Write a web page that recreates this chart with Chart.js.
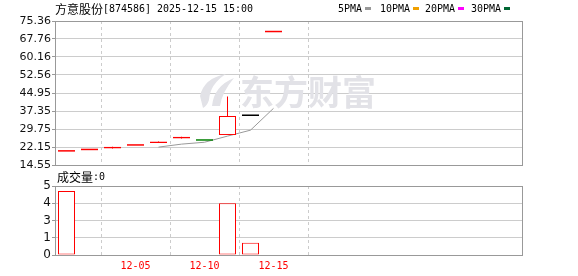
<!DOCTYPE html>
<html><head><meta charset="utf-8">
<script src="https://cdn.jsdelivr.net/npm/chart.js@4.4.0/dist/chart.umd.min.js"></script>
<style>
html,body{margin:0;padding:0;background:#fff;}
#wrap{position:relative;width:578px;height:276px;overflow:hidden;}
canvas{position:absolute;left:0;top:0;}
</style></head><body>
<div id="wrap"><canvas id="k" width="578" height="276"></canvas><canvas id="v" width="578" height="276"></canvas></div>
<script>
// ---- data ----
const dates = ["12-02","12-03","12-04","12-05","12-08","12-09","12-10","12-11","12-12","12-15"];
const openP  = [20.2, 20.8, 21.5, 22.7, 23.8, 25.7, 24.8, 27.2, 35.25, 70.6];
const closeP = [20.2, 20.8, 22.3, 22.7, 24.5, 26.5, 24.8, 35.25, 35.25, 70.6];
const highP  = [20.2, 20.8, 22.3, 22.7, 24.5, 26.5, 24.8, 43.5, 35.25, 70.6];
const lowP   = [20.2, 20.8, 21.5, 22.7, 23.8, 25.7, 24.8, 27.2, 35.25, 70.6];
const ma5    = [null, null, null, null, 22.1, 23.36, 24.16, 26.75, 29.26, 38.48];
const volume = [4.95, null, null, null, null, null, null, 4.0, 0.95, null];
const priceTicks = [14.55, 22.15, 29.75, 37.35, 44.95, 52.56, 60.16, 67.76, 75.36];
const volMax = 5.33;
const volTicks = [0, 1.3325, 2.665, 3.9975, 5.33];
const volTickLabels = ["0", "1", "3", "4", "5"];
const dateTicks = ["12-05", "12-10", "12-15"];
const stockName = "方意股份";
const stockInfo = "[874586] 2025-12-15 15:00";
const legendNames = ["5PMA", "10PMA", "20PMA", "30PMA"];
const volLabelCJK = "成交量";
const volLabelVal = ":0";
const watermark = "东方财富";

// ---- styles ----
const UP = '#ff0000', DOWN = '#008000', FLAT = '#000000';
const legendColors = ['#999999', '#f0a000', '#ff00ff', '#006633'];
const PLOT_W = 467, SLOT = 23;
const X_MIN = -0.5, X_MAX = -0.5 + PLOT_W / SLOT;
const dateTickIdx = dateTicks.map(d => dates.indexOf(d));

const candleColors = closeP.map((c, i) => {
  const o = openP[i];
  if (c > o) return UP;
  if (c < o) return DOWN;
  if (i === 0) return UP;
  const p = closeP[i - 1];
  return c > p ? UP : (c < p ? DOWN : FLAT);
});
const isDoji = closeP.map((c, i) => c === openP[i]);
const bodyFill = closeP.map((c, i) => isDoji[i] ? candleColors[i] : '#ffffff');
const bodyBorderW = isDoji.map(d => d ? 0 : 1);

function drawFixed(ctx, text, x, y, font, adv) {
  ctx.save();
  ctx.font = font;
  const w = ctx.measureText(text).width;
  ctx.translate(x, y);
  ctx.scale((adv * text.length) / w, 1);
  ctx.fillText(text, 0, 0);
  ctx.restore();
}

const framePlugin = {
  id: 'frame',
  afterDraw(chart) {
    const { ctx, chartArea: a } = chart;
    ctx.save();
    ctx.strokeStyle = '#999999';
    ctx.lineWidth = 1;
    ctx.strokeRect(Math.round(a.left) + 0.5, Math.round(a.top) + 0.5,
      Math.round(a.right - a.left), Math.round(a.bottom - a.top));
    ctx.restore();
  }
};

const watermarkPlugin = {
  id: 'wm',
  beforeDatasetsDraw(chart) {
    const ctx = chart.ctx;
    ctx.save();
    ctx.fillStyle = '#e2e2e7';
    ctx.font = 'bold 34px "Noto Sans CJK SC"';
    ctx.textBaseline = 'middle';
    ctx.fillText(watermark, 240, 92);
    ctx.beginPath();
    ctx.moveTo(200, 96);
    ctx.quadraticCurveTo(204, 78, 226, 74);
    ctx.quadraticCurveTo(210, 84, 209, 100);
    ctx.quadraticCurveTo(207, 106, 203, 108);
    ctx.closePath();
    ctx.fill();
    ctx.beginPath();
    ctx.moveTo(212, 106);
    ctx.quadraticCurveTo(214, 86, 234, 78);
    ctx.quadraticCurveTo(222, 92, 220, 106);
    ctx.closePath();
    ctx.fill();
    ctx.restore();
  }
};

const headerPlugin = {
  id: 'header',
  afterDraw(chart) {
    const ctx = chart.ctx;
    ctx.save();
    ctx.fillStyle = '#000';
    ctx.textBaseline = 'middle';
    ctx.font = '12px "Noto Sans CJK SC"';
    ctx.fillText(stockName, 55, 9);
    drawFixed(ctx, stockInfo, 103, 9, '11px "DejaVu Sans Mono"', 6);
    const lx = [338, 380, 425, 471];
    legendNames.forEach((n, i) => {
      ctx.fillStyle = '#000';
      drawFixed(ctx, n, lx[i], 9, '11px "DejaVu Sans Mono"', 6);
      ctx.fillStyle = legendColors[i];
      ctx.fillRect(lx[i] + n.length * 6 + 3, 7, 6, 3);
    });
    ctx.restore();
  }
};

const volHeaderPlugin = {
  id: 'volHeader',
  afterDraw(chart) {
    const ctx = chart.ctx;
    ctx.save();
    ctx.fillStyle = '#000';
    ctx.textBaseline = 'middle';
    ctx.font = '12px "Noto Sans CJK SC"';
    ctx.fillText(volLabelCJK, 57, 177);
    drawFixed(ctx, volLabelVal, 93, 177, '11px "DejaVu Sans Mono"', 6);
    ctx.restore();
  }
};

new Chart(document.getElementById('k'), {
  type: 'bar',
  data: {
    datasets: [
      {
        type: 'bar', label: 'body',
        data: dates.map((d, i) => ({ x: i, y: [openP[i], closeP[i]] })),
        backgroundColor: bodyFill, borderColor: candleColors,
        borderWidth: bodyBorderW, borderSkipped: false, barThickness: 17,
        minBarLength: 1.5, inflateAmount: 0, grouped: false, order: 0
      },
      {
        type: 'bar', label: 'wick',
        data: dates.map((d, i) => ({ x: i, y: [lowP[i], highP[i]] })),
        backgroundColor: candleColors, borderWidth: 0, inflateAmount: 0,
        barThickness: 1, grouped: false, order: 1
      },
      {
        type: 'line', label: '5PMA',
        data: ma5.map((v, i) => ({ x: i, y: v })),
        borderColor: '#999999', borderWidth: 1, pointRadius: 0,
        tension: 0, order: 2
      }
    ]
  },
  options: {
    responsive: false, animation: false,
    layout: { padding: { left: 0, right: 56, top: 21, bottom: 111 }, autoPadding: false },
    plugins: { legend: { display: false }, tooltip: { enabled: false } },
    scales: {
      x: {
        type: 'linear', min: X_MIN, max: X_MAX, offset: false,
        afterBuildTicks: a => { a.ticks = dateTickIdx.map(v => ({ value: v })); },
        afterFit: a => { a.height = 0; },
        ticks: { display: false },
        grid: { color: '#cccccc', drawTicks: false },
        border: { display: false, dash: [3, 3] }
      },
      y: {
        type: 'linear', min: priceTicks[0], max: priceTicks[priceTicks.length - 1],
        afterBuildTicks: a => { a.ticks = priceTicks.map(v => ({ value: v })); },
        afterFit: a => { a.width = 55; },
        ticks: {
          autoSkip: false, padding: 1, color: '#111',
          font: { family: 'DejaVu Sans', size: 11 },
          callback: v => Number(v).toFixed(2)
        },
        grid: { color: '#cccccc', tickColor: '#999999', tickLength: 3 },
        border: { display: false }
      }
    }
  },
  plugins: [watermarkPlugin, framePlugin, headerPlugin]
});

new Chart(document.getElementById('v'), {
  type: 'bar',
  data: {
    datasets: [{
      label: 'volume',
      data: volume.map((v, i) => ({ x: i, y: v })),
      backgroundColor: '#ffffff', borderColor: UP, borderWidth: 1,
      borderSkipped: false, barThickness: 17, inflateAmount: 0, grouped: false
    }]
  },
  options: {
    responsive: false, animation: false,
    layout: { padding: { left: 0, right: 56, top: 186, bottom: 0 }, autoPadding: false },
    plugins: { legend: { display: false }, tooltip: { enabled: false } },
    scales: {
      x: {
        type: 'linear', min: X_MIN, max: X_MAX, offset: false,
        afterBuildTicks: a => { a.ticks = dateTickIdx.map(v => ({ value: v })); },
        afterFit: a => { a.height = 21; },
        ticks: {
          autoSkip: false, maxRotation: 0, padding: 5, color: '#ff0000',
          font: { family: 'DejaVu Sans Mono', size: 10 },
          callback: v => dates[v]
        },
        grid: { color: '#cccccc', drawTicks: false },
        border: { display: false, dash: [3, 3] }
      },
      y: {
        type: 'linear', min: 0, max: volMax,
        afterBuildTicks: a => { a.ticks = volTicks.map(v => ({ value: v })); },
        afterFit: a => { a.width = 55; },
        ticks: {
          autoSkip: false, padding: 1, color: '#111',
          font: { family: 'DejaVu Sans', size: 12 },
          callback: (v, i) => volTickLabels[i]
        },
        grid: { color: '#cccccc', tickColor: '#999999', tickLength: 3 },
        border: { display: false }
      }
    }
  },
  plugins: [framePlugin, volHeaderPlugin]
});
</script>
</body></html>
